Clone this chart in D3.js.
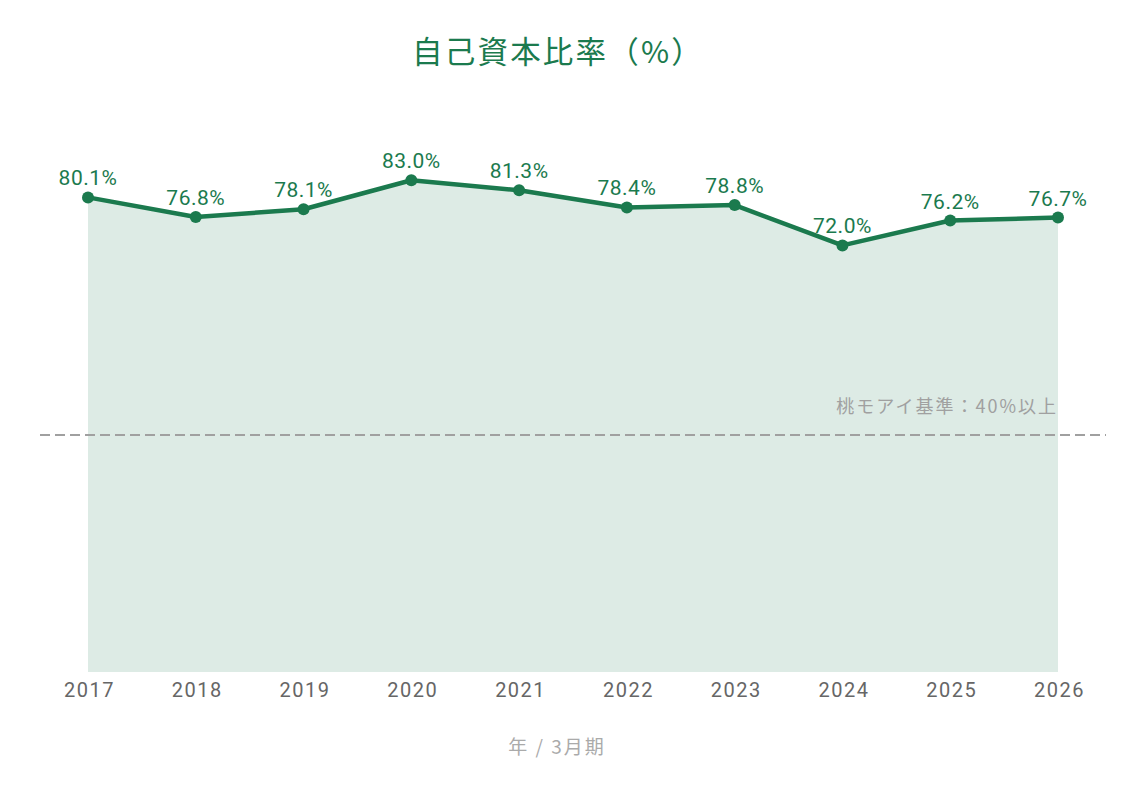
<!DOCTYPE html>
<html>
<head>
<meta charset="utf-8">
<script src="https://cdn.jsdelivr.net/npm/d3@7"></script>
<style>
body { margin: 0; background: #fff; }
svg { font-family: Roboto, "Noto Sans CJK JP", sans-serif; }
</style>
</head>
<body>
<div id="chart"></div>
<script>
const years = ['2017','2018','2019','2020','2021','2022','2023','2024','2025','2026'];
const ratios = [80.1, 76.8, 78.1, 83.0, 81.3, 78.4, 78.8, 72.0, 76.2, 76.7];
const threshold = 40;
const thresholdLabel = '桃モアイ基準：40%以上';
const green = '#1b7a4e';

const width = 1146, height = 797;
const svg = d3.select('#chart').append('svg')
    .attr('width', width)
    .attr('height', height);

const x = d3.scalePoint()
    .domain(years)
    .range([88, 1058]);

const y = d3.scaleLinear()
    .domain([0, 100])
    .range([672, 79.5]);

let data = years.map((d, i) => ({year: d, v: ratios[i]}));

// title
svg.append('text')
    .attr('x', 558)
    .attr('y', 63)
    .attr('text-anchor', 'middle')
    .attr('fill', green)
    .style('font-size', '30.5px')
    .style('letter-spacing', '2.2px')
    .style('font-family', '"Noto Sans CJK JP", sans-serif')
    .text('自己資本比率（%）');

// area
let area = d3.area()
    .x(d => x(d.year))
    .y0(y(0))
    .y1(d => y(d.v));

svg.append('path')
    .datum(data)
    .attr('d', area)
    .attr('fill', green)
    .attr('fill-opacity', 0.15);

// threshold line
svg.append('line')
    .attr('x1', 40)
    .attr('x2', 1106)
    .attr('y1', y(threshold))
    .attr('y2', y(threshold))
    .attr('stroke', '#a0a0a0')
    .attr('stroke-width', 2)
    .attr('stroke-dasharray', '10,5');

svg.append('text')
    .attr('x', 1058)
    .attr('y', y(threshold) - 22)
    .attr('text-anchor', 'end')
    .attr('fill', '#a0a0a0')
    .style('font-size', '18px')
    .style('letter-spacing', '2px')
    .style('font-family', '"Noto Sans CJK JP", sans-serif')
    .text(thresholdLabel);

// line
let line = d3.line()
    .x(d => x(d.year))
    .y(d => y(d.v));

svg.append('path')
    .datum(data)
    .attr('d', line)
    .attr('fill', 'none')
    .attr('stroke', green)
    .attr('stroke-width', 4.5)
    .attr('stroke-linejoin', 'round');

svg.selectAll('.pt')
    .data(data)
    .enter()
    .append('circle')
    .attr('class', 'pt')
    .attr('cx', d => x(d.year))
    .attr('cy', d => y(d.v))
    .attr('r', 6)
    .attr('fill', green);

svg.selectAll('.lbl')
    .data(data)
    .enter()
    .append('text')
    .attr('class', 'lbl')
    .attr('x', d => x(d.year))
    .attr('y', d => y(d.v) - 12)
    .attr('text-anchor', 'middle')
    .attr('fill', green)
    .style('font-size', '21px')
    .style('letter-spacing', '0.5px')
    .text(d => d.v.toFixed(1) + '%');

// x axis
let xAxis = svg.append('g')
    .attr('transform', `translate(0,${y(0)})`)
    .call(d3.axisBottom(x).tickSize(0).tickPadding(11));
xAxis.select('.domain').remove();
xAxis.selectAll('text')
    .attr('fill', '#666')
    .attr('dx', '1px')
    .style('font-size', '20px')
    .style('letter-spacing', '1.5px')
    .style('font-family', 'Roboto, sans-serif');

svg.append('text')
    .attr('x', 557)
    .attr('y', 754)
    .attr('text-anchor', 'middle')
    .attr('fill', '#aaa')
    .style('font-size', '19px')
    .style('letter-spacing', '2px')
    .style('font-family', '"Noto Sans CJK JP", sans-serif')
    .text('年 / 3月期');
</script>
</body>
</html>
